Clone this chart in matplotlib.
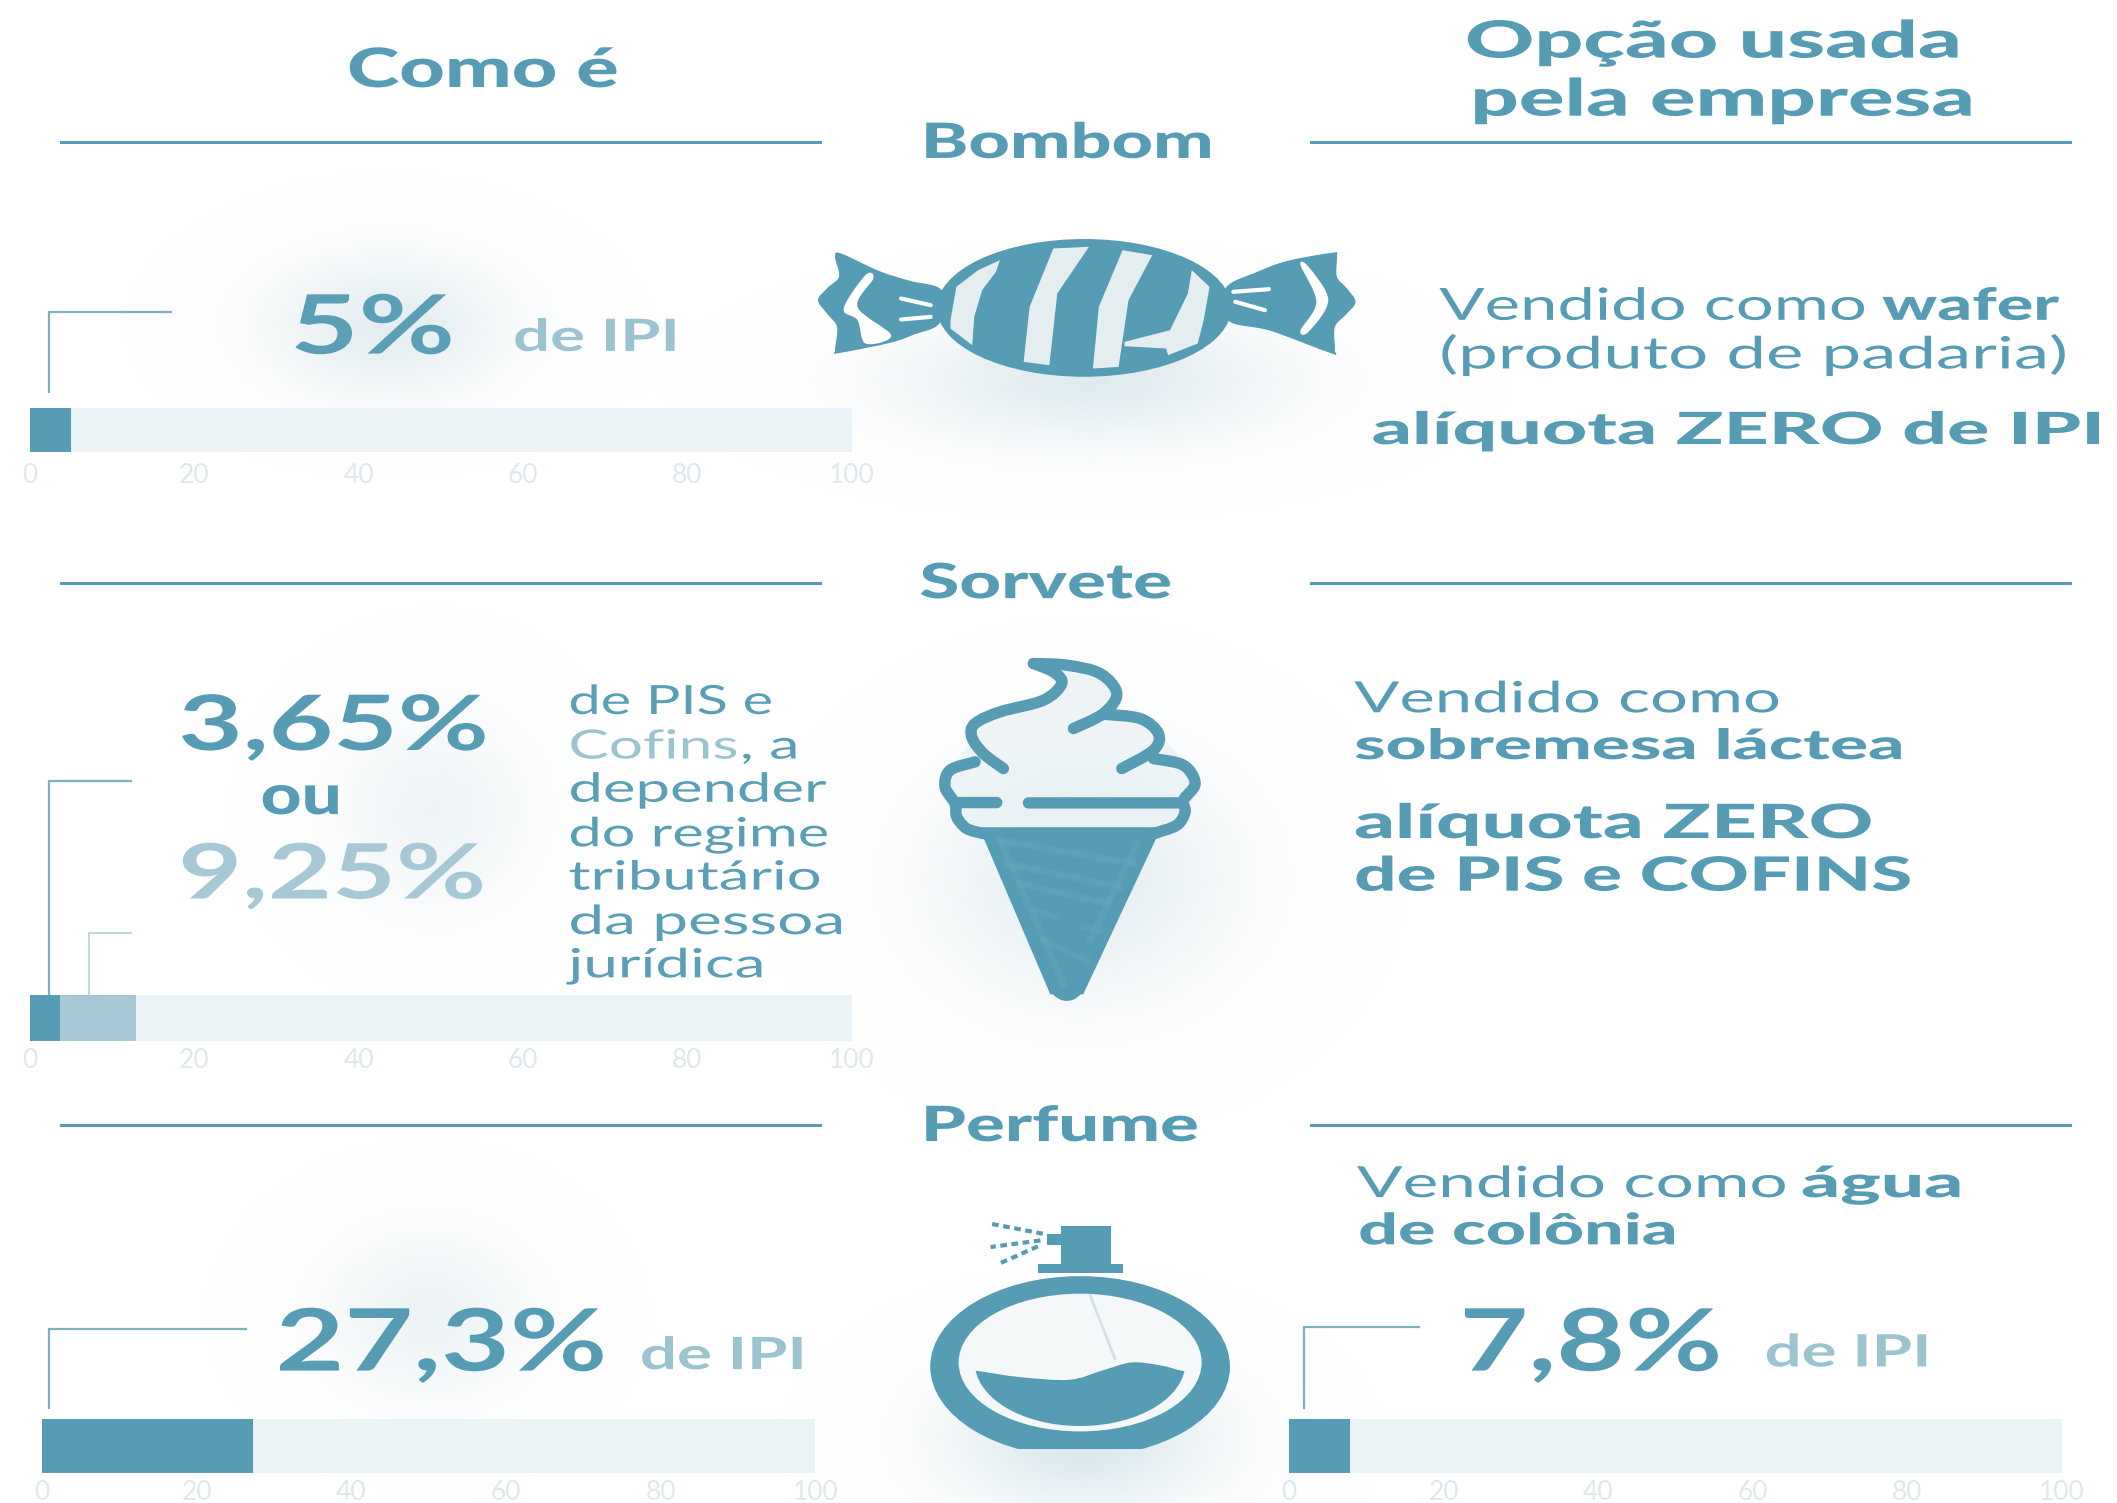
#!/usr/bin/env python
"""
plot.py -- Tax rate infographic: bombom, sorvete, perfume.
"""
import numpy as np
import matplotlib
matplotlib.use('Agg')
import matplotlib.pyplot as plt
from matplotlib.path import Path
from matplotlib.patches import PathPatch, Polygon, Ellipse, Rectangle, Circle
from matplotlib.patheffects import AbstractPathEffect
from matplotlib.transforms import Affine2D

W, H = 2117, 1503
RW, RH = 1568.0, 1113.0  # layout is measured on the shrunk reference

MAIN = '#559cb4'
LIGHT = '#a6c9d5'
SOFT = '#9cc3d0'
TRACK = '#ecf3f6'
TICK = '#dfe8ec'
PALE = '#e4edf0'

TICKS = [0, 20, 40, 60, 80, 100]
BOMBOM_RATE = [5]
SORVETE_RATES = [3.65, 9.25]
PERFUME_RATE = [27.3]
PERFUME_USED = [7.8]

HEADERS = ['Bombom', 'Sorvete', 'Perfume']

fig = plt.figure(figsize=(W / 100, H / 100), dpi=100)
bg = fig.add_axes([0, 0, 1, 1])
bg.set_xlim(0, RW)
bg.set_ylim(RH, 0)
renderer = fig.canvas.get_renderer()


class Stretch(AbstractPathEffect):
    """Widen drawn text along x about a pixel anchor (the reference text is stretched)."""

    def __init__(self, sx, x_from, x_to):
        super().__init__()
        self.extra = Affine2D().translate(-x_from, 0).scale(sx, 1).translate(x_to, 0)

    def draw_path(self, renderer, gc, tpath, affine, rgbFace=None):
        renderer.draw_path(gc, tpath, affine + self.extra, rgbFace)


def fit(s, x0, x1, y, size, color=MAIN, weight='normal'):
    """Text at a given size, centred on y, stretched to span x0..x1 (reference coords)."""
    t = bg.text(x0, y + 0.37 * size, s, color=color, fontweight=weight, fontsize=size,
                family='Lato', ha='left', va='baseline', zorder=5)
    box = t.get_window_extent(renderer)
    px = W / RW
    t.set_path_effects([Stretch((x1 - x0) * px / box.width, box.x0, x0 * px)])
    return t


def smooth(pts, closed=False):
    """Catmull-Rom curve through the points."""
    pts = np.asarray(pts, float)
    n = len(pts)
    verts = [pts[0]]
    codes = [Path.MOVETO]
    for i in range(n if closed else n - 1):
        if closed:
            p0, p1, p2, p3 = pts[(i - 1) % n], pts[i], pts[(i + 1) % n], pts[(i + 2) % n]
        else:
            p0, p1, p2, p3 = pts[max(i - 1, 0)], pts[i], pts[i + 1], pts[min(i + 2, n - 1)]
        verts += [p1 + (p2 - p0) / 6, p2 - (p3 - p1) / 6, p2]
        codes += [Path.CURVE4] * 3
    return Path(verts, codes)


def candy_xy(p):
    p = np.asarray(p, float)
    return np.c_[578 + p[:, 0] * 0.293, 163 + p[:, 1] * 0.247]


def cream_xy(p):
    p = np.asarray(p, float)
    return np.c_[(900 + p[:, 0] / 3) / 1.35, (640 + p[:, 1] / 3) / 1.35]


def bottle_xy(p):
    p = np.asarray(p, float)
    return np.c_[p[:, 0] * 0.614, 888.9 + p[:, 1] * 0.2469]


def glows():
    """Soft pale halos behind the numbers and the icons."""
    yy, xx = np.mgrid[0:RH:4, 0:RW:4]
    spots = [(285, 240, 85, 50, .75), (805, 280, 135, 45, .85), (320, 600, 70, 70, .45),
             (800, 650, 105, 85, .75), (315, 975, 75, 60, .5), (800, 1065, 95, 55, 1.0)]
    a = np.zeros_like(xx, dtype=float)
    for cx, cy, sx, sy, k in spots:
        a += k * np.exp(-((xx - cx) / sx) ** 2 - ((yy - cy) / sy) ** 2)
    rgba = np.ones(xx.shape + (4,))
    rgba[..., :3] = matplotlib.colors.to_rgb('#dbe8ed')
    rgba[..., 3] = np.clip(a, 0, 1)
    bg.imshow(rgba, extent=(0, RW, RH, 0), aspect='auto', zorder=0, interpolation='bilinear')


def candy():
    left = [(400, 205), (330, 185), (250, 155), (155, 103), (140, 110), (150, 170), (120, 205),
            (97, 240), (120, 280), (145, 320), (140, 390), (150, 396), (280, 365), (340, 340),
            (395, 315), (420, 260)]
    right = [(1135, 195), (1200, 160), (1280, 125), (1395, 100), (1405, 108), (1405, 170), (1430, 205),
             (1452, 245), (1430, 280), (1400, 320), (1400, 390), (1390, 396), (1240, 330),
             (1140, 305), (1110, 250)]
    for wing in (left, right):
        bg.add_patch(PathPatch(smooth(candy_xy(wing), True), fc=MAIN, ec=MAIN, lw=1, zorder=3))
    bg.add_patch(Ellipse((803, 228), 218, 102, fc=MAIN, ec='none', zorder=3))
    stripes = [
        [(430, 300), (445, 200), (500, 150), (555, 120), (545, 155), (510, 210), (490, 290), (485, 375), (430, 325)],
        [(690, 85), (780, 80), (700, 220), (680, 435), (615, 425), (630, 260)],
        [(865, 90), (940, 105), (880, 240), (855, 440), (790, 445), (805, 260)],
        [(1040, 150), (1085, 200), (1070, 300), (1055, 370), (980, 405), (975, 385),
         (870, 378), (870, 365), (985, 330), (1030, 220)],
    ]
    for s in stripes:
        bg.add_patch(Polygon(candy_xy(s), closed=True, fc=PALE, ec='none', zorder=4))
    bg.add_patch(PathPatch(smooth(candy_xy([(215, 165), (235, 175), (195, 260), (280, 345), (215, 370),
                                            (195, 300), (160, 265)]), True), fc='white', ec='none', zorder=4))
    bg.add_patch(PathPatch(smooth(candy_xy([(1315, 135), (1335, 140), (1385, 240), (1335, 335), (1315, 330),
                                            (1355, 245)]), True), fc='white', ec='none', zorder=4))
    for seg in [[(305, 235), (380, 255)], [(305, 298), (380, 290)],
                [(1145, 215), (1235, 207)], [(1150, 245), (1225, 270)]]:
        q = candy_xy(seg)
        bg.plot(q[:, 0], q[:, 1], color='white', lw=3, solid_capstyle='round', zorder=4)


def icecream():
    fill = [(400, 70), (600, 100), (650, 200), (775, 280), (885, 430), (830, 555), (760, 580),
            (250, 580), (170, 530), (135, 440), (215, 300), (300, 215), (470, 150)]
    bg.add_patch(PathPatch(smooth(cream_xy(fill), True), fc='#e9f1f4', ec='none', alpha=.7, zorder=2))
    strokes = [
        [(400, 70), (460, 95), (485, 130), (430, 180), (300, 215), (225, 250), (215, 290), (250, 340), (310, 385)],
        [(400, 70), (500, 75), (600, 100), (650, 160), (610, 220), (520, 265)],
        [(610, 222), (720, 235), (775, 280), (760, 330), (665, 385)],
        [(760, 355), (850, 375), (885, 430), (850, 480), (855, 515), (830, 555), (760, 580)],
        [(225, 365), (150, 390), (135, 440), (165, 490), (170, 530), (200, 565), (250, 580)],
        [(175, 487), (290, 487)],
        [(385, 488), (845, 488)],
        [(250, 578), (770, 578)],
    ]
    for s in strokes:
        bg.add_patch(PathPatch(smooth(cream_xy(s)), fc='none', ec=MAIN, lw=8.2,
                               capstyle='round', joinstyle='round', zorder=3))
    cone = [(245, 575), (775, 575), (548, 1060), (452, 1060)]
    bg.add_patch(Polygon(cream_xy(cone), closed=True, fc=MAIN, ec=MAIN, lw=1, zorder=3))
    bg.add_patch(Circle(cream_xy([(500, 1030)])[0], 12.8, fc=MAIN, ec='none', zorder=3))
    for seg in [[(300, 600), (700, 670)], [(320, 670), (660, 740)], [(360, 730), (620, 790)],
                [(400, 810), (470, 830)], [(550, 860), (600, 870)], [(430, 900), (560, 960)],
                [(300, 600), (490, 1030)], [(710, 610), (570, 900)]]:
        q = cream_xy(seg)
        bg.plot(q[:, 0], q[:, 1], color='#63a6bb', lw=5, alpha=.55, zorder=4)


def bottle():
    flat = Rectangle((600, 900), 400, 173, transform=bg.transData)
    ring = Ellipse((800, 1012), 222, 134, fc=MAIN, ec='none', zorder=3)
    bg.add_patch(ring)
    ring.set_clip_path(flat)
    inside = Ellipse((800, 1009), 180, 102, fc='#f4f8f9', ec='none', zorder=3)
    bg.add_patch(inside)
    # wavy liquid top: curve along the surface, then a box below it as the clip shape
    surface = smooth(bottle_xy([(1150, 505), (1180, 512), (1230, 530), (1290, 538), (1330, 510),
                                (1365, 486), (1400, 495), (1428, 512), (1460, 520)]))
    box = bottle_xy([(1460, 682), (1150, 682), (1150, 505)])
    clip = Path(np.vstack([surface.vertices, box]), list(surface.codes) + [Path.LINETO] * 3)
    liquid = Ellipse((800, 1009), 156, 94, fc=MAIN, ec='none', zorder=4)
    bg.add_patch(liquid)
    liquid.set_clip_path(clip, bg.transData)
    q = bottle_xy([(1315, 285), (1345, 475)])
    bg.plot(q[:, 0], q[:, 1], color='#d3e0e6', lw=2, zorder=4)
    for (x0, y0, x1, y1) in [(1280, 78, 1340, 195), (1252, 192, 1355, 218), (1263, 100, 1282, 135)]:
        c = bottle_xy([(x0, y0), (x1, y1)])
        bg.add_patch(Rectangle(c[0], *(c[1] - c[0]), fc=MAIN, ec='none', zorder=4))
    for seg in [[(1258, 100), (1195, 70)], [(1255, 120), (1195, 140)], [(1252, 138), (1205, 190)]]:
        q = bottle_xy(seg)
        bg.plot(q[:, 0], q[:, 1], color=MAIN, lw=3, ls=(0, (1.6, 1.1)), zorder=4)


def elbow(x, y0, y1, x1, color='#7fb0c1', lw=1.6):
    bg.plot([x, x, x1], [y0, y1, y1], color=color, lw=lw, solid_joinstyle='miter', zorder=3)


def rate_bar(x0, x1, y0, y1, values, colors, pad=5):
    """One 0-100 scale bar, on its own axes placed in reference coords."""
    ax = fig.add_axes([x0 / RW, 1 - y1 / RH, (x1 - x0) / RW, (y1 - y0) / RH])
    ax.patch.set_alpha(0)
    ax.barh([0], [100], height=1, color=TRACK, zorder=1)
    left = 0
    for v, c in zip(values, colors):
        ax.barh([0], [v], left=left, height=1, color=c, zorder=2)
        left += v
    ax.set_xlim(0, 100)
    ax.set_ylim(-.5, .5)
    ax.set_yticks([])
    ax.set_xticks(TICKS)
    ax.set_xticklabels([str(t) for t in TICKS], color=TICK, fontsize=19, family='Lato')
    ax.tick_params(axis='x', length=0, pad=pad)
    for s in ax.spines.values():
        s.set_visible(False)
    return ax


glows()
bg.set_xlim(0, RW)
bg.set_ylim(RH, 0)
bg.axis('off')

# Column titles
fit('Como é', 257, 458, 50, 39, weight='black')
fit('Opção usada', 1085, 1453, 29, 37, weight='black')
fit('pela empresa', 1089, 1463, 72, 37, weight='black')

# Section headers and rules
for name, xr, y, ly in zip(HEADERS, [(682, 899), (681, 868), (682, 888)], [104, 430, 832], [105, 432, 833]):
    fit(name, xr[0], xr[1], y, 35, weight='black')
    bg.plot([45, 607], [ly, ly], color=MAIN, lw=2.2, zorder=3)
    bg.plot([971, 1533], [ly, ly], color=MAIN, lw=2.2, zorder=3)

# Bombom
fit('5%', 215, 337, 240, 59, color='#5a9fb6', weight='bold')
fit('de IPI', 380, 504, 248, 32, color=SOFT, weight='bold')
elbow(36, 290, 231, 127)
rate_bar(22, 631, 302, 335, BOMBOM_RATE, [MAIN], pad=8)
fit('Vendido como', 1066, 1383, 225, 32)
fit('wafer', 1394, 1525, 225, 32, weight='black')
fit('(produto de padaria)', 1066, 1532, 261, 32)
fit('alíquota ZERO de IPI', 1016, 1560, 317, 32, weight='black')
candy()

# Sorvete
fit('3,65%', 132, 362, 535, 55, weight='bold')
fit('ou', 193, 253, 588, 40, weight='black')
fit('9,25%', 132, 360, 645, 55, color=LIGHT, weight='bold')
for line, y, xr in [('de PIS e', 518, 572), ('depender', 583, 612), ('do regime', 616, 614),
                    ('tributário', 648, 609), ('da pessoa', 681, 626), ('jurídica', 713, 567)]:
    fit(line, 421, xr, y, 29, color='#5a9fb6')
fit('Cofins', 421, 547, 551, 29, color=SOFT)
fit(', a', 548, 592, 551, 29, color='#5a9fb6')
elbow(36, 737, 578, 97)
elbow(66, 737, 691, 97, color='#b5d0da', lw=1.2)
rate_bar(22, 631, 737, 771, SORVETE_RATES, [MAIN, LIGHT])
fit('Vendido como', 1003, 1318, 516, 31)
fit('sobremesa láctea', 1003, 1410, 551, 30, weight='black')
fit('alíquota ZERO', 1003, 1388, 608, 34, weight='black')
fit('de PIS e COFINS', 1003, 1417, 647, 34, weight='black')
icecream()

# Perfume
fit('27,3%', 204, 450, 992, 62, weight='bold')
fit('de IPI', 474, 598, 1002, 32, color=SOFT, weight='bold')
elbow(36, 1043, 984, 182)
rate_bar(31, 604, 1051, 1091, PERFUME_RATE, [MAIN])
fit('Vendido como', 1005, 1323, 875, 31)
fit('água', 1334, 1454, 875, 31, weight='black')
fit('de colônia', 1006, 1242, 910, 31, weight='black')
fit('7,8%', 1081, 1276, 992, 62, weight='bold')
fit('de IPI', 1307, 1431, 1000, 32, color=SOFT, weight='bold')
elbow(966, 1043, 983, 1051)
rate_bar(955, 1527, 1051, 1091, PERFUME_USED, [MAIN])
bottle()

fig.savefig('out.png', dpi=100)
